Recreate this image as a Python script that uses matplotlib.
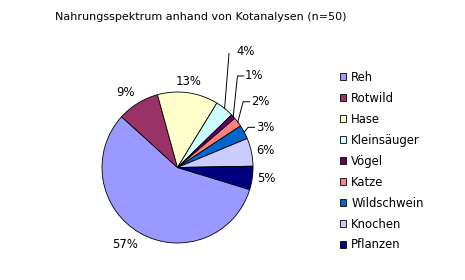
import numpy as np
import matplotlib
matplotlib.use("Agg")
import matplotlib.pyplot as plt

# === Daten ===
kategorien = ["Reh", "Rotwild", "Hase", "Kleinsäuger", "Vögel", "Katze",
              "Wildschwein", "Knochen", "Pflanzen"]
anteile = [57, 9, 13, 4, 1, 2, 3, 6, 5]
farben = ["#9999FF", "#993366", "#FFFFCC", "#CCFFFF", "#660066", "#FF8080",
          "#0066CC", "#CCCCFF", "#000080"]
titel = "Nahrungsspektrum anhand von Kotanalysen (n=50)"

# Beschriftungen mit Führungslinie: Index -> (x links, y) in Datenkoordinaten
fuehrung = {3: (0.784, 1.534), 4: (0.894, 1.212), 5: (0.969, 0.871), 6: (1.035, 0.532)}

FS = 8.4
plt.rcParams["font.family"] = ["DejaVu Sans"]

fig = plt.figure(figsize=(4.65, 2.8), dpi=100)
W, H = 465, 280
cx, cy, r = 177.5, 167.5, 75.5
box = 230
ax = fig.add_axes([(cx - box / 2) / W, (H - cy - box / 2) / H, box / W, box / H])
lim = box / 2 / r

wedges, _ = ax.pie(anteile, colors=farben, startangle=-17, counterclock=False,
                   wedgeprops=dict(edgecolor="black", linewidth=0.6))
ax.set_xlim(-lim, lim)
ax.set_ylim(-lim, lim)
ax.set_aspect("equal")
ax.axis("off")

for i, (w, p) in enumerate(zip(wedges, anteile)):
    th = np.deg2rad((w.theta1 + w.theta2) / 2)
    c, s = np.cos(th), np.sin(th)
    txt = f"{p}%"
    if i in fuehrung:
        xl, yl = fuehrung[i]
        ax.plot([c, xl - 0.1, xl - 0.015], [s, yl, yl], color="black", lw=0.7)
        ax.text(xl, yl, txt, ha="left", va="center", fontsize=FS)
    else:
        ha = "left" if c > 0.3 else ("right" if c < -0.3 else "center")
        va = "bottom" if s > 0.3 else ("top" if s < -0.3 else "center")
        ax.text(1.07 * c, 1.07 * s, txt, ha=ha, va=va, fontsize=FS)

fig.text(201 / W, 1 - 17 / H, titel, ha="center", va="center", fontsize=8.0)

fig.legend(wedges, kategorien, loc="upper left", bbox_to_anchor=(340 / W, 1 - 71 / H),
           frameon=False, fontsize=FS, handlelength=0.52, handleheight=0.52,
           handletextpad=0.45, labelspacing=0.68, borderpad=0, borderaxespad=0)

fig.savefig("out.png", dpi=100)
